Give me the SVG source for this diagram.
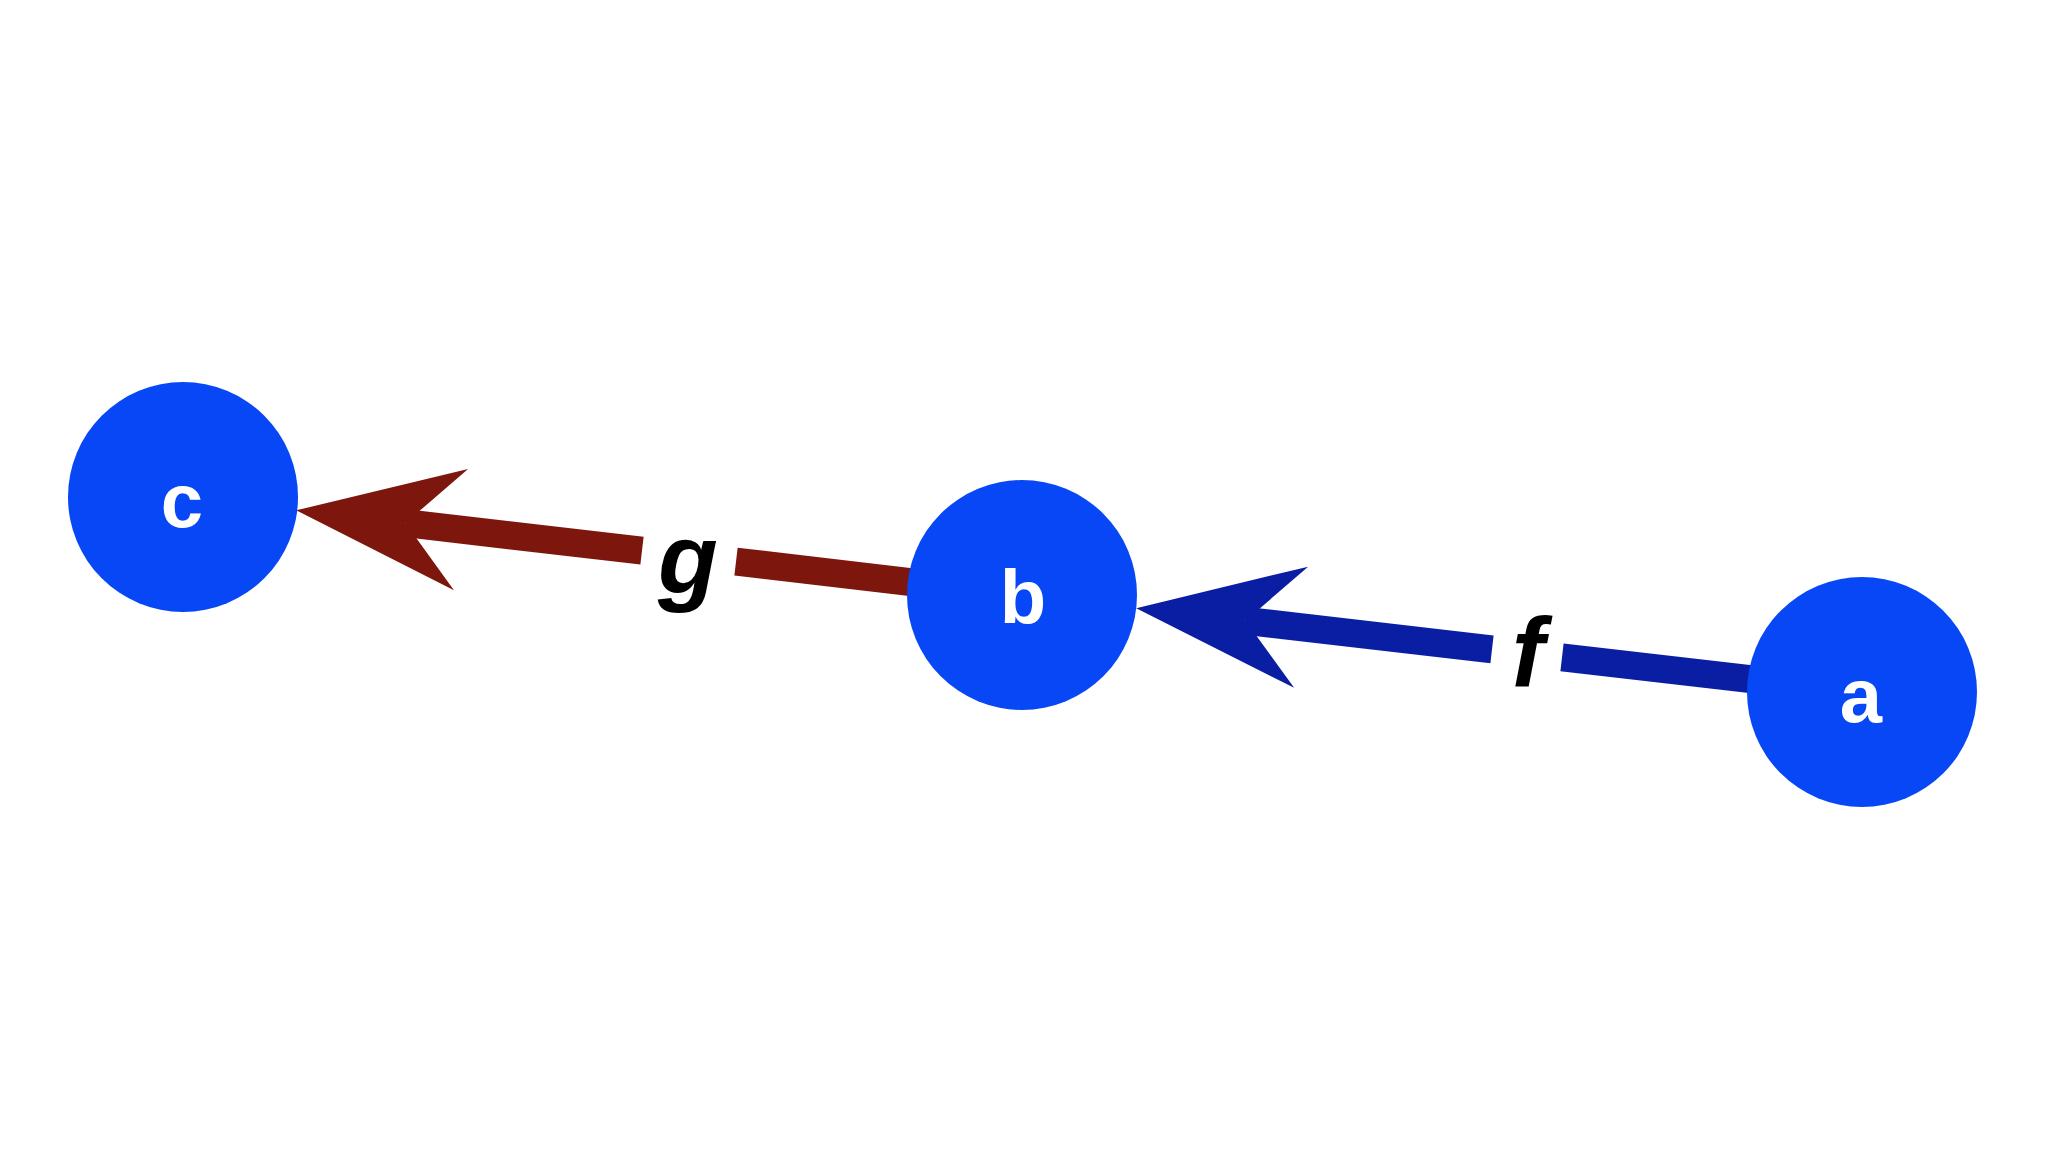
<svg xmlns="http://www.w3.org/2000/svg" width="2048" height="1152" viewBox="0 0 2048 1152">
<style>
.node{fill:#0847f5}
.nlabel{font-family:"Liberation Sans",Arial,Helvetica,sans-serif;font-weight:700;font-size:76px;fill:#ffffff;text-anchor:middle}
.elabel{font-family:"Liberation Sans",Arial,Helvetica,sans-serif;font-weight:700;font-style:italic;font-size:98px;fill:#000000;text-anchor:middle}
.edge{fill:none;stroke-width:28;stroke-linecap:butt}
#edge-g{stroke:#7d170e}
#edge-f{stroke:#0a1ea3}
</style>
<defs>
<marker id="arrow-red" viewBox="-60 -65 175 130" refX="0" refY="0" markerWidth="175" markerHeight="130" markerUnits="userSpaceOnUse" orient="auto" overflow="visible">
<path d="M110,0 L-56,-61 L0,0 L-56,61 Z" fill="#7d170e"/>
</marker>
<marker id="arrow-blue" viewBox="-60 -65 175 130" refX="0" refY="0" markerWidth="175" markerHeight="130" markerUnits="userSpaceOnUse" orient="auto" overflow="visible">
<path d="M110,0 L-56,-61 L0,0 L-56,61 Z" fill="#0a1ea3"/>
</marker>
</defs>
<rect width="2048" height="1152" fill="#ffffff"/>
<g id="connectors">
<path id="edge-g" class="edge" d="M912.8,582.3 L736,561.6 M642,550.7 L405.4,523.1" marker-end="url(#arrow-red)"/>
<path id="edge-f" class="edge" d="M1752.7,679.4 L1562,657.4 M1492,649.3 L1245.5,620.8" marker-end="url(#arrow-blue)"/>
<text class="elabel" x="688" y="593">g</text>
<text class="elabel" x="1528" y="686">f</text>
</g>
<g id="node-c">
<circle class="node" cx="183" cy="497" r="115"/>
<text class="nlabel" x="182" y="527">c</text>
</g>
<g id="node-b">
<circle class="node" cx="1022" cy="595" r="115"/>
<text class="nlabel" x="1023" y="623">b</text>
</g>
<g id="node-a">
<circle class="node" cx="1862" cy="692" r="115"/>
<text class="nlabel" x="1861" y="722">a</text>
</g>
</svg>
